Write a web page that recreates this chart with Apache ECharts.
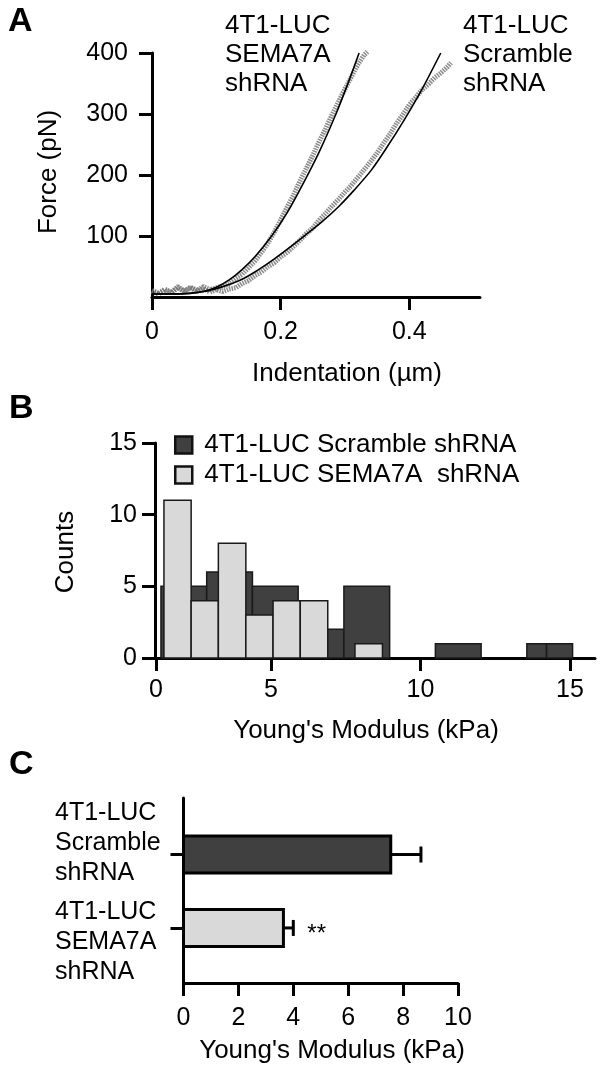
<!DOCTYPE html>
<html>
<head>
<meta charset="utf-8">
<script src="https://cdn.jsdelivr.net/npm/echarts@6/dist/echarts.min.js"></script>
<style>
html, body { margin: 0; padding: 0; background: #fff; }
#chart { width: 602px; height: 1073px; }
</style>
</head>
<body>
<div id="chart"></div>
<script>
// ---- panel A: force / indentation curves ----
var indentTicks = [0, 0.2, 0.4];
var indentLabels = ['0', '0.2', '0.4'];
var forceTicks = [100, 200, 300, 400];
var forceLabels = ['100', '200', '300', '400'];

var semaFit = [[0,5],[0.03,5],[0.06,6],[0.08,9],[0.10,16],[0.12,28],[0.14,45],[0.16,66],[0.186,100],
  [0.21,138],[0.235,186],[0.26,238],[0.286,300],[0.305,351],[0.322,400]];
var scrambleFit = [[0,5],[0.04,5],[0.08,9],[0.11,17],[0.136,27],[0.16,41],[0.187,60],[0.21,78],[0.238,101],
  [0.265,124],[0.29,148],[0.315,176],[0.341,208],[0.365,245],[0.392,290],[0.418,337],[0.449,400]];
var semaData = [[0,9],[0.01,5],[0.02,11],[0.03,7],[0.04,15],[0.05,9],[0.06,16],[0.07,11],[0.08,17],[0.09,12],
  [0.10,15],[0.11,18],[0.12,22],[0.13,30],[0.14,37],[0.15,48],[0.16,59],[0.17,73],[0.18,88],[0.19,106],
  [0.20,126],[0.21,147],[0.22,167],[0.23,190],[0.24,211],[0.25,232],[0.26,255],[0.27,276],[0.28,299],
  [0.29,320],[0.30,341],[0.31,361],[0.32,381],[0.33,397],[0.335,402]];
var scrambleData = [[0,11],[0.01,6],[0.02,13],[0.03,8],[0.04,17],[0.05,10],[0.06,15],[0.07,9],[0.08,14],
  [0.09,8],[0.10,12],[0.11,9],[0.12,13],[0.13,15],[0.14,22],[0.15,27],[0.16,35],[0.17,41],[0.18,50],
  [0.19,56],[0.20,66],[0.21,73],[0.22,83],[0.23,93],[0.24,104],[0.25,113],[0.26,126],[0.27,137],
  [0.28,149],[0.29,160],[0.30,172],[0.31,183],[0.32,196],[0.33,209],[0.34,222],[0.35,236],[0.36,252],
  [0.37,267],[0.38,284],[0.39,299],[0.40,315],[0.41,327],[0.42,340],[0.43,349],[0.44,360],[0.45,368],
  [0.46,378],[0.465,384]];

// ---- panel B: histogram of Young's modulus ----
var histNames = ['4T1-LUC Scramble shRNA', '4T1-LUC SEMA7A  shRNA'];
var histTicks = [1.15, 5, 10, 15];
var histTickLabels = ['0', '5', '10', '15'];
var countTicks = [0, 5, 10, 15];
var scrambleBinStart = [1.32, 2.85, 4.38, 5.91, 7.44, 8.97, 10.50, 12.03, 13.56, 14.22];
var scrambleBinEnd   = [2.85, 4.38, 5.91, 7.44, 8.97, 10.50, 12.03, 13.56, 14.22, 15.09];
var scrambleCounts   = [5, 6, 5, 2, 5, 0, 1, 0, 1, 1];
var semaBinStart = [1.42, 2.33, 3.24, 4.16, 5.07, 5.98, 6.90, 7.81];
var semaBinEnd   = [2.33, 3.24, 4.16, 5.07, 5.98, 6.90, 7.81, 8.73];
var semaCounts   = [11, 4, 8, 3, 4, 4, 0, 1];

// ---- panel C: mean modulus with error ----
var groupPos = [2, 1];
var groupLabels = ['4T1-LUC\nScramble\nshRNA', '4T1-LUC\nSEMA7A\nshRNA'];
var groupLabelPos = [2.16, 0.81];
var modulusMean = [7.55, 3.64];
var modulusErr = [1.1, 0.36];
var sigMarks = ['', '**'];

var FONT = '"Liberation Sans", Arial, Helvetica, sans-serif';
var DARK = '#404040', LIGHT = '#d9d9d9';
var barColors = [DARK, LIGHT];

function lookup(ticks, labels) {
  return function (v) {
    for (var i = 0; i < ticks.length; i++) {
      if (Math.abs(ticks[i] - v) < 1e-6) return labels[i];
    }
    return '';
  };
}

var axisLine = { show: true, onZero: false, lineStyle: { color: '#000', width: 3 } };
function tick(vals) {
  return { show: true, length: 13, customValues: vals, lineStyle: { color: '#000', width: 3 } };
}

function histItem(params, api) {
  var count = api.value(2);
  if (!count) return;
  var p0 = api.coord([api.value(0), 0]);
  var p1 = api.coord([api.value(1), count]);
  return {
    type: 'rect',
    shape: { x: p0[0], y: p1[1], width: p1[0] - p0[0], height: p0[1] - p1[1] },
    style: { fill: api.visual('color'), stroke: '#1a1a1a', lineWidth: 1.5 }
  };
}

function barItem(params, api) {
  var y = api.value(0), v = api.value(1), e = api.value(2);
  var a = api.coord([0, y]), b = api.coord([v, y]), c = api.coord([v + e, y]);
  var h = 37;
  var kids = [
    { type: 'line', shape: { x1: b[0], y1: b[1], x2: c[0], y2: c[1] }, style: { stroke: '#000', lineWidth: 3 } },
    { type: 'line', shape: { x1: c[0], y1: c[1] - 8, x2: c[0], y2: c[1] + 8 }, style: { stroke: '#000', lineWidth: 3 } },
    { type: 'rect', shape: { x: a[0], y: a[1] - h / 2, width: b[0] - a[0], height: h },
      style: { fill: barColors[params.dataIndex], stroke: '#000', lineWidth: 3 } }
  ];
  var sig = sigMarks[params.dataIndex];
  if (sig) {
    kids.push({ type: 'text', x: c[0] + 14, y: c[1] + 6,
      style: { text: sig, font: '24px ' + FONT, fill: '#000', textVerticalAlign: 'middle' } });
  }
  return { type: 'group', children: kids };
}

function txt(x, y, s, size, opts) {
  opts = opts || {};
  return {
    type: 'text', x: x, y: y, rotation: opts.rot || 0,
    style: {
      text: s, font: (opts.bold ? 'bold ' : '') + size + 'px ' + FONT, fill: '#000',
      textAlign: opts.align || 'center', textVerticalAlign: 'middle', lineHeight: opts.lh
    }
  };
}

var option = {
  animation: false,
  backgroundColor: '#fff',
  textStyle: { fontFamily: FONT, color: '#000' },
  grid: [
    { left: 152, top: 53, width: 328, height: 244, outerBoundsMode: 'none' },
    { left: 145, top: 443, width: 450, height: 215, outerBoundsMode: 'none' },
    { left: 183.5, top: 798, width: 274.5, height: 185, outerBoundsMode: 'none' }
  ],
  xAxis: [
    { gridIndex: 0, type: 'value', min: 0, max: 0.51, axisLine: axisLine, axisTick: tick(indentTicks),
      splitLine: { show: false },
      axisLabel: { customValues: indentTicks, formatter: lookup(indentTicks, indentLabels), fontSize: 25, color: '#000', margin: 23 } },
    { gridIndex: 1, type: 'value', min: 0.786, max: 15.84, axisLine: axisLine, axisTick: tick(histTicks),
      splitLine: { show: false },
      axisLabel: { customValues: histTicks, formatter: lookup(histTicks, histTickLabels), fontSize: 25, color: '#000', margin: 20 } },
    { gridIndex: 2, type: 'value', min: 0, max: 10, interval: 2, axisLine: axisLine,
      axisTick: { show: true, length: 13, lineStyle: { color: '#000', width: 3 } },
      splitLine: { show: false },
      axisLabel: { fontSize: 25, color: '#000', margin: 23 } }
  ],
  yAxis: [
    { gridIndex: 0, type: 'value', min: 0, max: 400, axisLine: axisLine, axisTick: tick(forceTicks),
      splitLine: { show: false },
      axisLabel: { customValues: forceTicks, formatter: lookup(forceTicks, forceLabels), fontSize: 25, color: '#000', margin: 24 } },
    { gridIndex: 1, type: 'value', min: 0, max: 15, offset: -10, axisLine: axisLine, axisTick: tick(countTicks),
      splitLine: { show: false },
      axisLabel: { customValues: countTicks, fontSize: 25, color: '#000', margin: 18 } },
    { gridIndex: 2, type: 'value', position: 'left', min: 0.25, max: 2.77, axisLine: axisLine, axisTick: tick(groupPos),
      splitLine: { show: false }, axisLabel: { show: false } },
    { gridIndex: 2, type: 'value', position: 'left', min: 0.25, max: 2.77, axisLine: { show: false }, axisTick: { show: false },
      splitLine: { show: false },
      axisLabel: { customValues: groupLabelPos, formatter: lookup(groupLabelPos, groupLabels),
        align: 'left', margin: 128.5, fontSize: 25, lineHeight: 30, color: '#000' } }
  ],
  legend: {
    data: histNames, orient: 'vertical', left: 174, top: 432, padding: 0,
    icon: 'rect', itemWidth: 17, itemHeight: 17, itemGap: 4, selectedMode: false,
    itemStyle: { borderColor: '#111', borderWidth: 2.5 },
    textStyle: { fontSize: 26, lineHeight: 26, color: '#000', fontFamily: FONT, padding: [0, 0, 0, 7] }
  },
  graphic: [
    txt(8, 22, 'A', 34, { bold: true, align: 'left' }),
    txt(9, 409, 'B', 34, { bold: true, align: 'left' }),
    txt(9, 765, 'C', 34, { bold: true, align: 'left' }),
    txt(225, 55, '4T1-LUC\nSEMA7A\nshRNA', 26, { align: 'left', lh: 28.7 }),
    txt(463, 55, '4T1-LUC\nScramble\nshRNA', 26, { align: 'left', lh: 28.7 }),
    txt(347, 374, 'Indentation (µm)', 26),
    txt(49, 172, 'Force (pN)', 26, { rot: Math.PI / 2 }),
    txt(66, 552, 'Counts', 26, { rot: Math.PI / 2 }),
    txt(366, 731, "Young's Modulus (kPa)", 26),
    txt(332, 1051, "Young's Modulus (kPa)", 26)
  ],
  series: [
    { type: 'line', xAxisIndex: 0, yAxisIndex: 0, data: scrambleData, showSymbol: false, clip: false, z: 2,
      lineStyle: { color: '#6e6e6e', width: 5, type: [1.5, 1], opacity: 0.8 } },
    { type: 'line', xAxisIndex: 0, yAxisIndex: 0, data: semaData, showSymbol: false, clip: false, z: 2,
      lineStyle: { color: '#6e6e6e', width: 5, type: [1.5, 1], opacity: 0.8 } },
    { type: 'line', xAxisIndex: 0, yAxisIndex: 0, data: scrambleFit, showSymbol: false, smooth: 0.3, clip: false, z: 3,
      lineStyle: { color: '#000', width: 1.6 } },
    { type: 'line', xAxisIndex: 0, yAxisIndex: 0, data: semaFit, showSymbol: false, smooth: 0.3, clip: false, z: 3,
      lineStyle: { color: '#000', width: 1.6 } },
    { name: histNames[0], type: 'custom', xAxisIndex: 1, yAxisIndex: 1, renderItem: histItem,
      itemStyle: { color: DARK }, encode: { x: [0, 1], y: 2 }, z: 2,
      data: scrambleBinStart.map(function (s, i) { return [s, scrambleBinEnd[i], scrambleCounts[i]]; }) },
    { name: histNames[1], type: 'custom', xAxisIndex: 1, yAxisIndex: 1, renderItem: histItem,
      itemStyle: { color: LIGHT }, encode: { x: [0, 1], y: 2 }, z: 3,
      data: semaBinStart.map(function (s, i) { return [s, semaBinEnd[i], semaCounts[i]]; }) },
    { type: 'custom', xAxisIndex: 2, yAxisIndex: 2, renderItem: barItem, encode: { y: 0, x: 1 },
      data: groupPos.map(function (p, i) { return [p, modulusMean[i], modulusErr[i]]; }) }
  ]
};

var myChart = echarts.init(document.getElementById('chart'));
myChart.setOption(option);
</script>
</body>
</html>
